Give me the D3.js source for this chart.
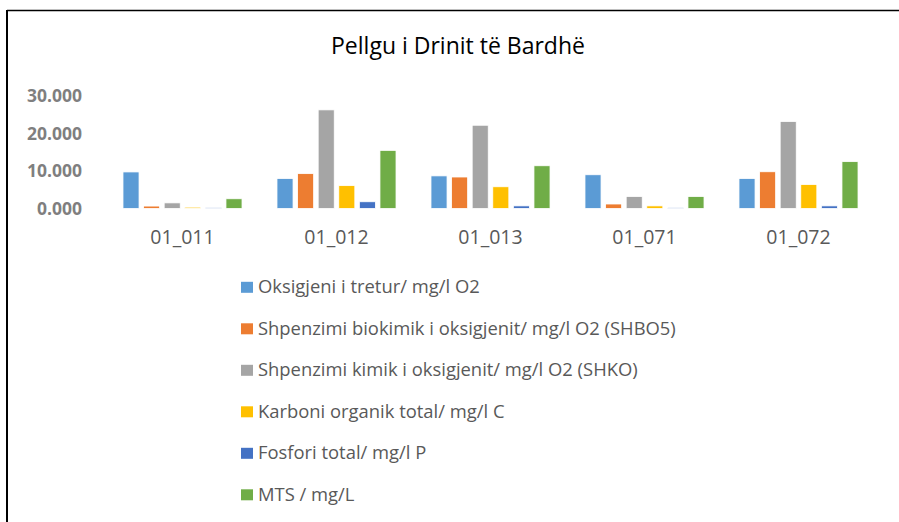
<!DOCTYPE html>
<html>
<head>
<meta charset="utf-8">
<script src="https://cdn.jsdelivr.net/npm/d3@7"></script>
<style>
  html, body { margin: 0; padding: 0; background: #fff; }
  svg { display: block; }
</style>
</head>
<body>
<svg id="chart" width="899" height="522"></svg>
<script>
const title = "Pellgu i Drinit të Bardhë";
const categories = ["01_011", "01_012", "01_013", "01_071", "01_072"];
const seriesNames = [
  "Oksigjeni i tretur/ mg/l O2",
  "Shpenzimi biokimik i oksigjenit/ mg/l O2 (SHBO5)",
  "Shpenzimi kimik i oksigjenit/ mg/l O2 (SHKO)",
  "Karboni organik total/ mg/l C",
  "Fosfori total/ mg/l P",
  "MTS / mg/L"
];
const oksigjeni = [9.75, 8.0, 8.7, 9.0, 8.0];
const shbo5     = [0.65, 9.3, 8.4, 1.2, 9.8];
const shko      = [1.5, 26.3, 22.2, 3.2, 23.2];
const karboni   = [0.35, 6.1, 5.8, 0.7, 6.4];
const fosfori   = [0.2, 1.8, 0.7, 0.25, 0.7];
const mts       = [2.6, 15.5, 11.4, 3.2, 12.5];
const yTicks = [0, 10, 20, 30];
const colors = ["#5B9BD5", "#ED7D31", "#A5A5A5", "#FFC000", "#4472C4", "#70AD47"];

const seriesValues = [oksigjeni, shbo5, shko, karboni, fosfori, mts];
const series = seriesNames.map((name, i) => ({ name, values: seriesValues[i], color: colors[i] }));

const svg = d3.select("#chart");

// frame
svg.append("line").attr("x1", 7).attr("x2", 7).attr("y1", 10).attr("y2", 522)
  .attr("stroke", "#000").attr("stroke-width", 2);
svg.append("line").attr("x1", 7).attr("x2", 899).attr("y1", 10.5).attr("y2", 10.5)
  .attr("stroke", "#000").attr("stroke-width", 1.5);

// title
svg.append("text")
  .attr("x", 458).attr("y", 54)
  .attr("text-anchor", "middle")
  .attr("font-family", "'Open Sans', sans-serif")
  .attr("font-size", 23)
  .attr("fill", "#000")
  .text(title);

const x0 = d3.scaleBand().domain(categories).range([105.5, 875.5])
  .paddingInner(0.227).paddingOuter(0.1135);
const x1 = d3.scaleBand().domain(seriesNames).range([0, x0.bandwidth()]).paddingInner(0.22);
const y = d3.scaleLinear().domain([0, 30]).range([208.5, 96]);

// y axis
const yAxis = svg.append("g").attr("transform", "translate(82,0)")
  .call(d3.axisLeft(y).tickValues(yTicks).tickSize(0).tickPadding(0).tickFormat(d3.format(".3f")));
yAxis.select(".domain").remove();
yAxis.selectAll("text")
  .attr("font-family", "'Open Sans', sans-serif")
  .attr("font-weight", "bold")
  .attr("font-size", 17.5)
  .attr("fill", "#7f7f7f");

// bars
const groups = svg.append("g").selectAll("g")
  .data(categories).join("g")
  .attr("transform", d => `translate(${x0(d)},0)`);
groups.selectAll("rect")
  .data((c, ci) => series.map(s => ({ name: s.name, color: s.color, value: s.values[ci] })))
  .join("rect")
  .attr("x", d => x1(d.name))
  .attr("width", x1.bandwidth())
  .attr("y", d => y(d.value))
  .attr("height", d => y(0) - y(d.value))
  .attr("fill", d => d.color)
  .attr("stroke", "#fff")
  .attr("stroke-width", 0.8);

// x axis
const xAxis = svg.append("g").attr("transform", `translate(0,${y(0)})`)
  .call(d3.axisBottom(x0).tickSize(0).tickPadding(0));
xAxis.select(".domain").remove();
xAxis.selectAll("text")
  .attr("y", 35).attr("dy", "0")
  .attr("font-family", "'Open Sans', sans-serif")
  .attr("font-size", 19.5)
  .attr("fill", "#595959");

// legend
const legend = svg.append("g").selectAll("g")
  .data(series).join("g")
  .attr("transform", (d, i) => `translate(241,${293.3 + i * 41.5})`);
legend.append("rect")
  .attr("x", 0).attr("y", -11.5).attr("width", 12).attr("height", 11)
  .attr("fill", d => d.color);
legend.append("text")
  .attr("x", 17).attr("y", 0)
  .attr("font-family", "'Open Sans', sans-serif")
  .attr("font-size", 18.4)
  .attr("fill", "#595959")
  .text(d => d.name);
</script>
</body>
</html>
